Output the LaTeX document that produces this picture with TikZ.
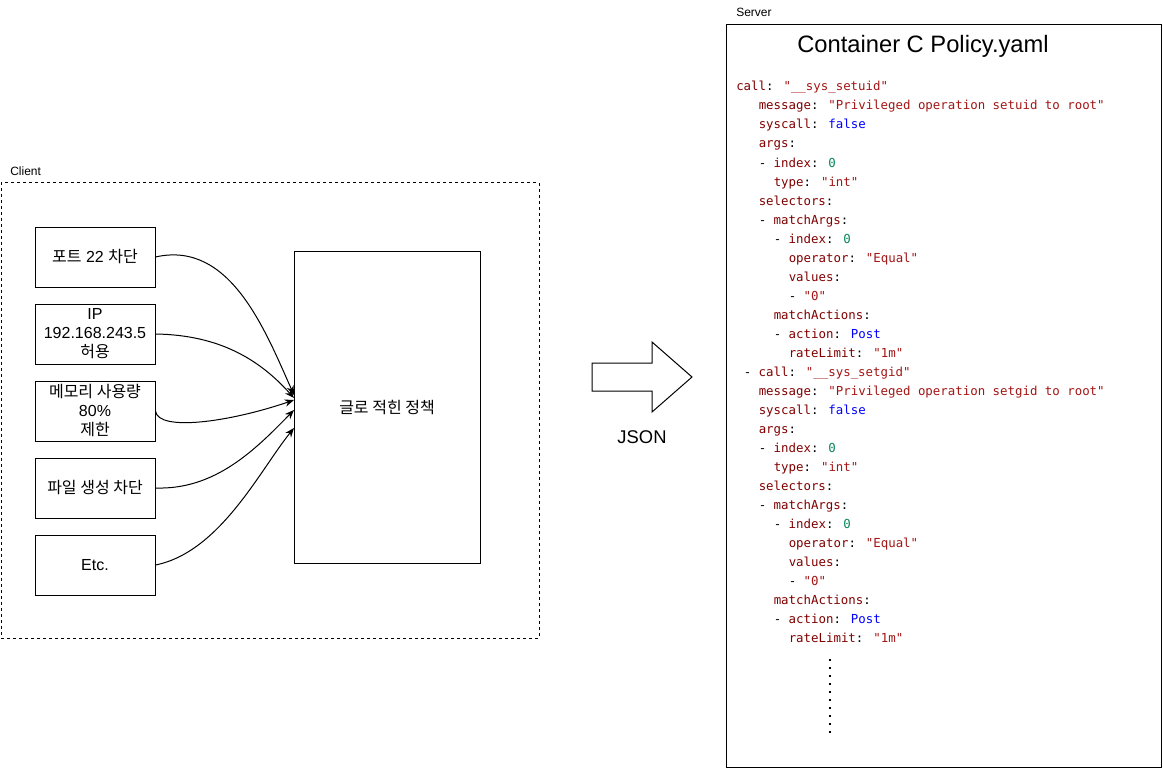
\documentclass[tikz,border=0pt]{standalone}
\usepackage{fontspec}
\setmainfont{Liberation Sans}
\newfontfamily\kr{Noto Sans CJK KR}
\newfontfamily\codefont{DejaVu Sans Mono}
\usetikzlibrary{arrows.meta}
\definecolor{ckey}{HTML}{800000}
\definecolor{cstr}{HTML}{A31515}
\definecolor{cbool}{HTML}{0000FF}
\definecolor{cnum}{HTML}{098658}
\newcommand\ykey[1]{\textcolor{ckey}{#1}}
\newcommand\ystr[1]{\textcolor{cstr}{#1}}
\newcommand\ybool[1]{\textcolor{cbool}{#1}}
\newcommand\ynum[1]{\textcolor{cnum}{#1}}
\tikzset{
  px/.style={x=0.75pt,y=-0.75pt},
  rulebox/.style={draw,line width=0.75pt,minimum width=90pt,minimum height=45pt,inner sep=0pt,align=center,font=\fontsize{12}{14.25}\selectfont},
  bigbox/.style={draw,line width=0.75pt,minimum width=139.5pt,minimum height=234pt,inner sep=0pt,font=\fontsize{12}{14.25}\selectfont},
  small/.style={anchor=west,inner sep=0pt,font=\fontsize{9}{11}\selectfont},
  code/.style={anchor=base west,inner sep=0pt,font=\codefont\fontsize{9.3}{11}\selectfont},
  conn/.style={line width=0.75pt,-{Stealth[length=7pt,width=5.5pt]}},
}
\begin{document}
\begin{tikzpicture}[px]
\useasboundingbox (0,0) rectangle (1163,770);
% client
\node[small] (clientlbl) at (10,171) {Client};
\node[draw,dash pattern=on 2.25pt off 2.25pt,line width=0.75pt,minimum width=403.5pt,minimum height=341.25pt,inner sep=0pt] (client) at (270,410.5) {};
\node[rulebox] (b1) at (95,257) {{\kr 포트} 22 {\kr 차단}};
\node[rulebox] (b2) at (95,334) {IP\\192.168.243.5\\{\kr 허용}};
\node[rulebox] (b3) at (95,411) {{\kr 메모리 사용량}\\80\%\\{\kr 제한}};
\node[rulebox] (b4) at (95,488) {{\kr 파일 생성 차단}};
\node[rulebox] (b5) at (95,565) {Etc.};
\node[bigbox] (g) at (387,407) {{\kr 글로 적힌 정책}};
\coordinate (t1) at (294,395);
\coordinate (t2) at (294,398);
\coordinate (t3) at (294,400);
\coordinate (t4) at (294,410);
\coordinate (t5) at (294,428);
\draw[conn] (b1.east) .. controls (230,240) and (265,330) .. (t1);
\draw[conn] (b2.east) .. controls (220,335) and (260,360) .. (t2);
\draw[conn] (b3.east) .. controls (158,432) and (230,422) .. (t3);
\draw[conn] (b4.east) .. controls (215,490) and (255,450) .. (t4);
\draw[conn] (b5.east) .. controls (220,552) and (260,470) .. (t5);
% block arrow
\draw[line width=0.75pt] (592,363) -- (652,363) -- (652,342) -- (692,377) -- (652,412) -- (652,391) -- (592,391) -- cycle;
\node[inner sep=0pt,font=\fontsize{13.8}{16}\selectfont] (json) at (642,437) {JSON};
% server
\node[small] (serverlbl) at (736,12) {Server};
\node[draw,line width=0.75pt,minimum width=326.25pt,minimum height=556.5pt,inner sep=0pt] (server) at (943.5,396) {};
\node[inner sep=0pt,font=\fontsize{17.8}{20}\selectfont] (title) at (923,46) {Container C Policy.yaml};
\node[code] (l1) at (736,91) {\ykey{call}: \ystr{"\_\_sys\_setuid"}};
\node[code] (l2) at (758.5,110) {\ykey{message}: \ystr{"Privileged operation setuid to root"}};
\node[code] (l3) at (758.5,129) {\ykey{syscall}: \ybool{false}};
\node[code] (l4) at (758.5,148) {\ykey{args}:};
\node[code] (l5) at (758.5,167) {- \ykey{index}: \ynum{0}};
\node[code] (l6) at (773.5,186) {\ykey{type}: \ystr{"int"}};
\node[code] (l7) at (758.5,205) {\ykey{selectors}:};
\node[code] (l8) at (758.5,224) {- \ykey{matchArgs}:};
\node[code] (l9) at (773.5,243) {- \ykey{index}: \ynum{0}};
\node[code] (l10) at (788.5,262) {\ykey{operator}: \ystr{"Equal"}};
\node[code] (l11) at (788.5,281) {\ykey{values}:};
\node[code] (l12) at (788.5,300) {- \ystr{"0"}};
\node[code] (l13) at (773.5,319) {\ykey{matchActions}:};
\node[code] (l14) at (773.5,338) {- \ykey{action}: \ybool{Post}};
\node[code] (l15) at (788.5,357) {\ykey{rateLimit}: \ystr{"1m"}};
\node[code] (l16) at (743.5,376) {- \ykey{call}: \ystr{"\_\_sys\_setgid"}};
\node[code] (l17) at (758.5,395) {\ykey{message}: \ystr{"Privileged operation setgid to root"}};
\node[code] (l18) at (758.5,414) {\ykey{syscall}: \ybool{false}};
\node[code] (l19) at (758.5,433) {\ykey{args}:};
\node[code] (l20) at (758.5,452) {- \ykey{index}: \ynum{0}};
\node[code] (l21) at (773.5,471) {\ykey{type}: \ystr{"int"}};
\node[code] (l22) at (758.5,490) {\ykey{selectors}:};
\node[code] (l23) at (758.5,509) {- \ykey{matchArgs}:};
\node[code] (l24) at (773.5,528) {- \ykey{index}: \ynum{0}};
\node[code] (l25) at (788.5,547) {\ykey{operator}: \ystr{"Equal"}};
\node[code] (l26) at (788.5,566) {\ykey{values}:};
\node[code] (l27) at (788.5,585) {- \ystr{"0"}};
\node[code] (l28) at (773.5,604) {\ykey{matchActions}:};
\node[code] (l29) at (773.5,623) {- \ykey{action}: \ybool{Post}};
\node[code] (l30) at (788.5,642) {\ykey{rateLimit}: \ystr{"1m"}};
\draw[line width=1.5pt,dash pattern=on 1.2pt off 4.8pt] (830,659) -- (830,734);
\end{tikzpicture}
\end{document}
